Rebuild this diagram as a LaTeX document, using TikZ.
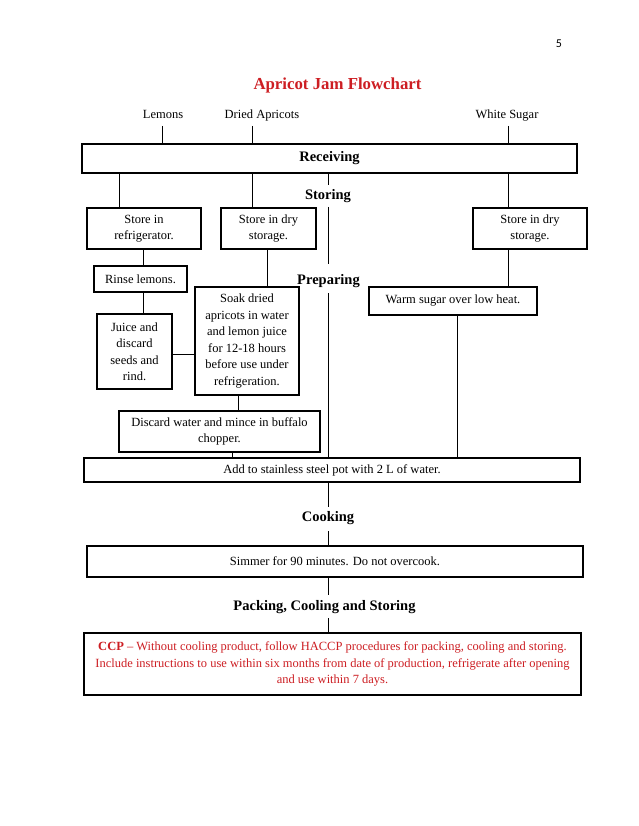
\documentclass[tikz,border=0pt]{standalone}
\usepackage{fontspec}
\setmainfont{Liberation Serif}
\newfontfamily\pagenumfont{Carlito}
\definecolor{titlered}{RGB}{205,30,35}
\begin{document}
\begin{tikzpicture}[x=1pt,y=-1pt,
  txt/.style={font=\fontsize{12.5pt}{16.5pt}\selectfont},
  box/.style={draw, line width=1.8pt, align=center, inner sep=0pt, txt},
  head/.style={font=\fontsize{14.5pt}{17pt}\selectfont\bfseries, inner sep=0pt, outer sep=0pt, anchor=base},
  ing/.style={txt, inner sep=0pt, outer sep=0pt, anchor=base, text height=9pt, text depth=7pt},
  conn/.style={line width=0.8pt}]
\useasboundingbox[fill=white] (0,0) rectangle (638,826);

% column coordinates
\coordinate (cLem) at (162,0);
\coordinate (cApr) at (252,0);
\coordinate (cSug) at (508,0);
\coordinate (cRef) at (119,0);
\coordinate (cRin) at (143,0);
\coordinate (cSoak) at (267,0);
\coordinate (cSoakOut) at (238,0);
\coordinate (cDis) at (232,0);
\coordinate (cWarm) at (457,0);
\coordinate (cM) at (328,0);
\coordinate (rJS) at (0,354);

% page number and title
\node[anchor=base, inner sep=0pt, font=\pagenumfont\fontsize{12pt}{14pt}\selectfont] (pnum) at (559,48) {5};
\node[anchor=base, inner sep=0pt, text=titlered, font=\fontsize{16.8pt}{19pt}\selectfont\bfseries] (title) at (337.5,90) {Apricot Jam Flowchart};

% ingredients
\node[ing] (lem) at (163,119) {Lemons};
\node[ing] (apr) at (262,119) {Dried Apricots};
\node[ing] (sug) at (507,119) {White Sugar};

% boxes
\node[box, minimum width=495pt, minimum height=29pt] (rec) at (329.5,158.5) {\fontsize{14.5pt}{17pt}\selectfont\bfseries Receiving};
\node[box, minimum width=114pt, minimum height=41pt] (st1) at (144,228.5) {Store in\\refrigerator.};
\node[box, minimum width=95pt, minimum height=41pt] (st2) at (268.5,228.5) {Store in dry\\storage.};
\node[box, minimum width=114pt, minimum height=41pt] (st3) at (530,228.5) {Store in dry\\storage.};
\node[box, minimum width=93pt, minimum height=26pt] (rinse) at (140.5,279) {Rinse lemons.};
\node[box, minimum width=75pt, minimum height=75pt] (juice) at (134.5,351.5) {Juice and\\discard\\seeds and\\rind.};
\node[box, minimum width=104pt, minimum height=108pt] (soak) at (247,341) {Soak dried\\apricots in water\\and lemon juice\\for 12-18 hours\\before use under\\refrigeration.};
\node[box, minimum width=168pt, minimum height=28pt] (warm) at (453,301) {Warm sugar over low heat.};
\node[box, minimum width=201pt, minimum height=41pt] (dis) at (219.5,431.5) {Discard water and mince in buffalo\\chopper.};
\node[box, minimum width=496pt, minimum height=24pt] (add) at (332,470) {Add to stainless steel pot with 2 L of water.};
\node[box, minimum width=496pt, minimum height=31pt] (sim) at (335,561.5) {Simmer for 90 minutes. Do not overcook.};
\node[box, minimum width=497pt, minimum height=62pt, text=titlered] (ccp) at (332.5,664) {\textbf{CCP} -- Without cooling product, follow HACCP procedures for packing, cooling and storing.\\Include instructions to use within six months from date of production, refrigerate after opening\\and use within 7 days.};

% headings
\node[head, text height=15pt, text depth=7pt] (stor) at (328,200) {Storing};
\node[head, text height=20pt, text depth=9pt] (prep) at (328.5,284) {Preparing};
\node[head, text height=14pt, text depth=10pt] (cook) at (328,521) {Cooking};
\node[head, text height=15pt, text depth=8pt] (pack) at (324.5,610) {Packing, Cooling and Storing};

% connectors
\draw[conn] (cLem |- lem.south) -- (cLem |- rec.north);
\draw[conn] (cApr |- apr.south) -- (cApr |- rec.north);
\draw[conn] (cSug |- sug.south) -- (cSug |- rec.north);
\draw[conn] (cRef |- rec.south) -- (cRef |- st1.north);
\draw[conn] (cApr |- rec.south) -- (cApr |- st2.north);
\draw[conn] (cSug |- rec.south) -- (cSug |- st3.north);
\draw[conn] (cM |- rec.south) -- (cM |- stor.north);
\draw[conn] (cM |- stor.south) -- (cM |- prep.north);
\draw[conn] (cM |- prep.south) -- (cM |- add.north);
\draw[conn] (cRin |- st1.south) -- (cRin |- rinse.north);
\draw[conn] (cRin |- rinse.south) -- (cRin |- juice.north);
\draw[conn] (juice.east |- rJS) -- (soak.west |- rJS);
\draw[conn] (cSoak |- st2.south) -- (cSoak |- soak.north);
\draw[conn] (cSoakOut |- soak.south) -- (cSoakOut |- dis.north);
\draw[conn] (cDis |- dis.south) -- (cDis |- add.north);
\draw[conn] (cSug |- st3.south) -- (cSug |- warm.north);
\draw[conn] (cWarm |- warm.south) -- (cWarm |- add.north);
\draw[conn] (cM |- add.south) -- (cM |- cook.north);
\draw[conn] (cM |- cook.south) -- (cM |- sim.north);
\draw[conn] (cM |- sim.south) -- (cM |- pack.north);
\draw[conn] (cM |- pack.south) -- (cM |- ccp.north);
\end{tikzpicture}
\end{document}
